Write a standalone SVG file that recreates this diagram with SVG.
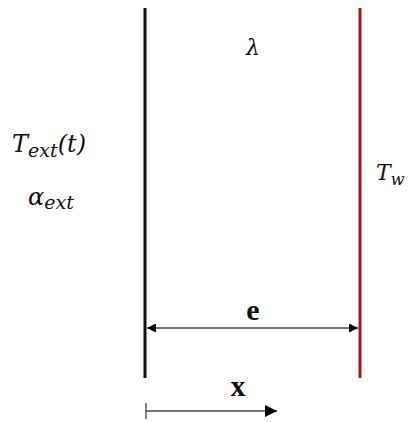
<svg xmlns="http://www.w3.org/2000/svg" width="408" height="422" viewBox="0 0 408 422">
<defs>
<marker id="ah" viewBox="0 0 10 10" refX="10" refY="5" markerWidth="14" markerHeight="9" markerUnits="userSpaceOnUse" orient="auto-start-reverse"><path d="M0,0 L10,5 L0,10 z" fill="#000"/></marker>
<marker id="ah2" viewBox="0 0 10 10" refX="10" refY="5" markerWidth="26" markerHeight="12" markerUnits="userSpaceOnUse" orient="auto"><path d="M0,0 L10,5 L0,10 z" fill="#000"/></marker>
</defs>
<style>
.m{font-family:"DejaVu Serif","Liberation Serif",serif;font-style:italic;fill:#111}
.b{font-family:"Liberation Serif","DejaVu Serif",serif;font-weight:bold;fill:#111}
</style>
<rect width="408" height="422" fill="#fff"/>
<g id="wall-left"><line x1="145" y1="8" x2="145" y2="378" stroke="#111" stroke-width="3"/></g>
<g id="wall-right"><line x1="360" y1="8" x2="360" y2="378" stroke="#a01b1e" stroke-width="3"/></g>
<g id="connectors">
<line x1="147" y1="328" x2="358" y2="328" stroke="#444" stroke-width="1.3" marker-start="url(#ah)" marker-end="url(#ah)"/>
<line x1="146" y1="403" x2="146" y2="419" stroke="#444" stroke-width="1.3"/>
<line x1="146" y1="411" x2="277" y2="411" stroke="#444" stroke-width="1.3" marker-end="url(#ah2)"/>
</g>
<g id="labels">
<text class="m" x="12" y="152" font-size="24">T<tspan font-size="19" dy="5">ext</tspan><tspan font-size="24" dy="-5">(t)</tspan></text>
<text class="m" x="28" y="205" font-size="24">α<tspan font-size="19" dy="4">ext</tspan></text>
<text class="m" x="246" y="55" font-size="22">λ</text>
<text class="m" x="376" y="180" font-size="22">T<tspan font-size="16" dy="5">w</tspan></text>
<text class="b" x="253" y="320" font-size="30" text-anchor="middle">e</text>
<text class="b" x="238" y="396" font-size="30" text-anchor="middle">x</text>
</g>
</svg>
